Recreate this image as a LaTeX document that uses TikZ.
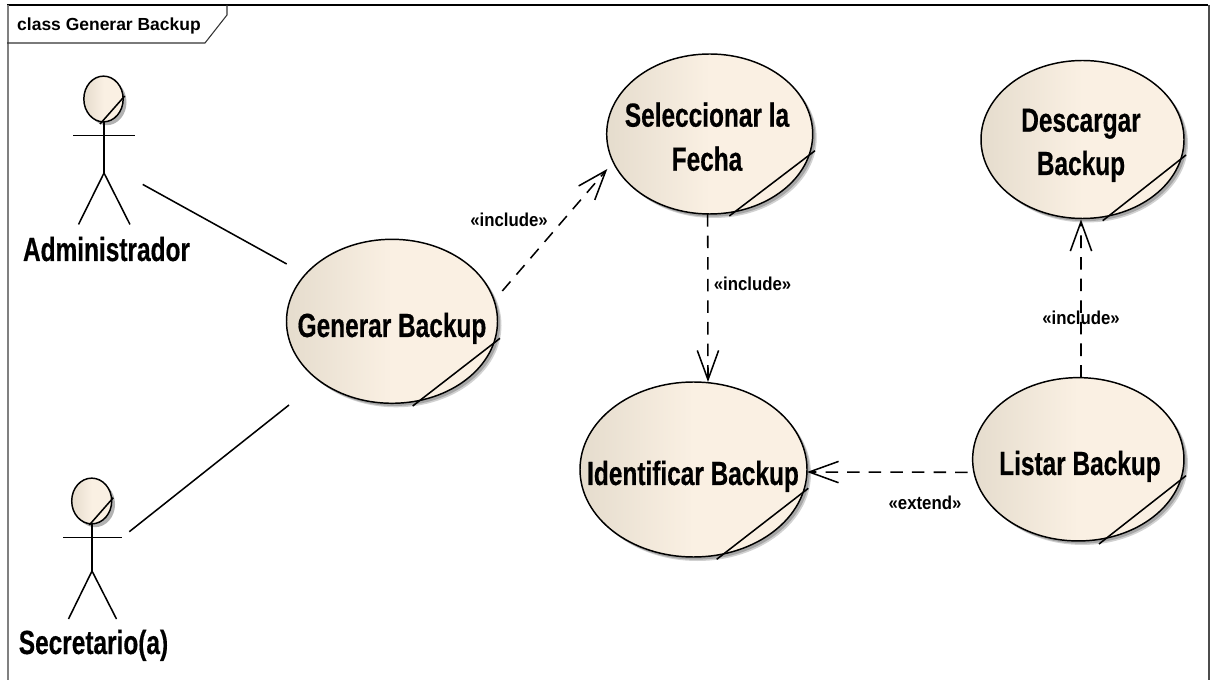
\documentclass[tikz,border=0pt]{standalone}
\usepackage{fontspec}
\setmainfont{Liberation Sans}
\newfontfamily\bigf{Liberation Sans}[FakeStretch=0.73,FakeBold=0.4]
\newfontfamily\labf{Liberation Sans}[FakeStretch=0.9]
\usetikzlibrary{arrows.meta,shadows,shapes.geometric}
\definecolor{ucA}{RGB}{229,220,205}
\definecolor{ucB}{RGB}{250,240,227}
\pgfdeclarehorizontalshading{ucshade}{100bp}{color(0bp)=(ucA); color(25bp)=(ucA); color(50bp)=(ucB); color(100bp)=(ucB)}
\tikzset{
  ucell/.style={ellipse,draw=black,line width=1.1pt,inner sep=0pt,outer sep=0pt,shading=ucshade,
    general shadow={shadow xshift=3pt,shadow yshift=-3pt,fill=black!18},
    general shadow={shadow xshift=2pt,shadow yshift=-2pt,fill=black!35}},
  bigtxt/.style={font=\fontsize{25.1pt}{30pt}\selectfont\bigf\bfseries,anchor=base,inner sep=0pt},
  titletxt/.style={font=\fontsize{13.1pt}{15pt}\selectfont\bfseries,anchor=base,inner sep=0pt},
  smalltxt/.style={font=\fontsize{14pt}{16pt}\selectfont\labf\bfseries,anchor=base,inner sep=0pt},
  actorbox/.style={rectangle,inner sep=0pt,outer sep=0pt},
  stroke/.style={line width=1.15pt,draw=black},
  dep/.style={stroke,dash pattern=on 9.4pt off 6.8pt,-{Straight Barb[length=22pt,width=16pt,line width=1.15pt]}},
}
\begin{document}
\begin{tikzpicture}[x=0.75pt,y=-0.75pt]
\useasboundingbox (0,0) rectangle (1210,680);
% frame
\draw[line width=1pt,black] (7,5) -- (1208,5);
\draw[line width=1.5pt,black!70] (1208.5,5) -- (1208.5,680);
\draw[line width=1.5pt,black!50] (7.5,5) -- (7.5,680);
\draw[line width=0.8pt,black!80] (7,43) -- (205,43) -- (227,15) -- (227,5);
\node[titletxt] (title) at (109,31) {class Generar Backup};
% use cases
\node[ucell,minimum width=158.25pt,minimum height=123pt] (gen) at (392,321.3) {};
\node[ucell,minimum width=154.5pt,minimum height=120pt] (sel) at (709.7,134) {};
\node[ucell,minimum width=152.25pt,minimum height=118.5pt] (des) at (1082.5,139.5) {};
\node[ucell,minimum width=170.25pt,minimum height=131.25pt] (ide) at (693.5,469.5) {};
\node[ucell,minimum width=158.5pt,minimum height=122.5pt] (lis) at (1078.3,459.3) {};
% note folds
\draw[stroke] (412.7,406) -- (500,338.3);
\draw[stroke] (729.3,216) -- (815,150.7);
\draw[stroke] (1102.7,220.7) -- (1186,155);
\draw[stroke] (716.7,559.3) -- (808.3,488.3);
\draw[stroke] (1099,544) -- (1186,475.7);
% use case texts
\node[bigtxt] (gent) at (392,337) {Generar Backup};
\node[bigtxt] (selt) at (707,126.7) {Seleccionar la};
\node[bigtxt] (selu) at (707,170.7) {Fecha};
\node[bigtxt] (dest) at (1081,131.7) {Descargar};
\node[bigtxt] (desu) at (1081,175) {Backup};
\node[bigtxt] (idet) at (693,485) {Identificar Backup};
\node[bigtxt] (list) at (1080,475) {Listar Backup};
% actors
\node[actorbox,minimum width=46.5pt,minimum height=111.4pt] (adm) at (104,150.2) {};
\node[ellipse,draw=black,line width=1.1pt,inner sep=0pt,shading=ucshade,minimum width=29.5pt,minimum height=34.3pt,
  general shadow={shadow xshift=2.5pt,shadow yshift=-2.5pt,fill=black!30}] (admh) at (103.5,99) {};
\draw[stroke] (100,124) -- (124.7,96);
\draw[stroke] (73,135.5) -- (135,135.5);
\draw[stroke] (104,122) -- (104,173);
\draw[stroke] (78.5,224.5) -- (104,173) -- (130,224.5);
\node[bigtxt] (admt) at (106.5,261) {Administrador};
\node[actorbox,minimum width=44.25pt,minimum height=105.75pt] (sec) at (92.5,548.5) {};
\node[ellipse,draw=black,line width=1.1pt,inner sep=0pt,shading=ucshade,minimum width=30pt,minimum height=34.3pt,
  general shadow={shadow xshift=2.5pt,shadow yshift=-2.5pt,fill=black!30}] (sech) at (91.7,501) {};
\draw[stroke] (89.3,525) -- (113.3,497.7);
\draw[stroke] (63,537.7) -- (122,537.7);
\draw[stroke] (92,524) -- (92,571);
\draw[stroke] (68.5,619) -- (92,571) -- (116.5,619);
\node[bigtxt] (sect) at (93.5,654) {Secretario(a)};
% associations
\draw[stroke] ([shift={(7.7,34.2)}]adm.east) -- ([shift={(0.2,-57.3)}]gen.west);
\draw[stroke] ([shift={(7.3,-16.8)}]sec.east) -- ([shift={(2.5,83.7)}]gen.west);
% dependencies
\draw[dep] ([shift={(4.8,-30.3)}]gen.east) -- ([shift={(0.6,35)}]sel.west);
\draw[dep] ([shift={(-2,0)}]sel.south) -- ([shift={(14.5,0)}]ide.north);
\draw[dep] ([shift={(-5,13)}]lis.west) -- ([shift={(0,2.5)}]ide.east);
\draw[dep] ([shift={(2.7,0)}]lis.north) -- ([shift={(-1.5,1)}]des.south);
% labels
\node[smalltxt] (l1) at (509,226.7) {«include»};
\node[smalltxt] (l2) at (752.5,290.7) {«include»};
\node[smalltxt] (l3) at (1081,325) {«include»};
\node[smalltxt] (l4) at (925,509) {«extend»};
\end{tikzpicture}
\end{document}
